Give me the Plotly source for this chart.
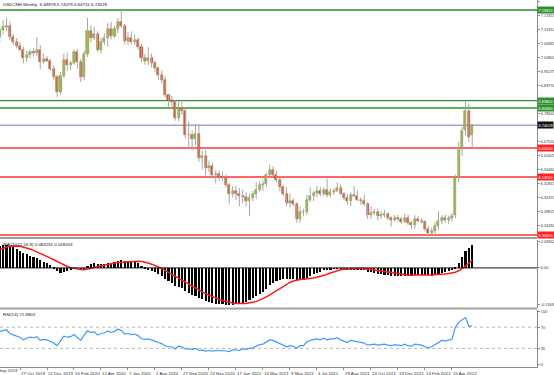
import pandas as pd
import plotly.graph_objects as go

# ---------------- data ----------------
symbol_title = "USDCNH,Weekly  6.69978 6.74079 6.64715 6.74028"
dates = pd.date_range("2019-09-15", periods=141, freq="7D")

opens = [7.090, 7.117, 7.128, 7.135, 7.090, 7.068, 7.055, 7.040, 7.005, 7.020,
         7.030, 7.025, 7.040, 6.990, 7.002, 6.996, 6.962, 6.932, 6.870, 6.935,
         7.000, 6.978, 6.988, 7.030, 6.992, 6.932, 7.022, 7.112, 7.085, 7.102,
         7.040, 7.070, 7.085, 7.122, 7.095, 7.122, 7.148, 7.135, 7.075, 7.085,
         7.070, 7.076, 7.050, 7.005, 6.995, 7.008, 6.985, 6.965, 6.940, 6.920,
         6.860, 6.840, 6.832, 6.770, 6.810, 6.795, 6.700, 6.702, 6.685, 6.705,
         6.612, 6.620, 6.570, 6.578, 6.542, 6.546, 6.535, 6.530, 6.505, 6.470,
         6.480, 6.470, 6.462, 6.455, 6.440, 6.452, 6.468, 6.485, 6.505, 6.508,
         6.545, 6.565, 6.545, 6.525, 6.495, 6.470, 6.432, 6.442, 6.430, 6.370,
         6.395, 6.396, 6.445, 6.460, 6.474, 6.480, 6.470, 6.485, 6.465, 6.476,
         6.480, 6.490, 6.470, 6.452, 6.440, 6.465, 6.460, 6.446, 6.440, 6.430,
         6.385, 6.392, 6.396, 6.380, 6.386, 6.390, 6.375, 6.366, 6.375, 6.370,
         6.356, 6.375, 6.352, 6.345, 6.370, 6.362, 6.358, 6.330, 6.315, 6.320,
         6.342, 6.360, 6.372, 6.365, 6.372, 6.385, 6.530, 6.648, 6.720, 6.795,
         6.69978]
highs = [7.122, 7.157, 7.165, 7.152, 7.102, 7.085, 7.070, 7.052, 7.035, 7.040,
         7.045, 7.090, 7.058, 7.025, 7.015, 7.002, 6.978, 6.938, 6.952, 7.025,
         7.028, 6.995, 7.040, 7.042, 7.002, 7.035, 7.165, 7.135, 7.130, 7.112,
         7.085, 7.105, 7.145, 7.150, 7.135, 7.165, 7.1965, 7.142, 7.110, 7.112,
         7.100, 7.088, 7.062, 7.022, 7.050, 7.025, 6.995, 6.972, 6.958, 6.935,
         6.866, 6.856, 6.840, 6.842, 6.832, 6.810, 6.755, 6.720, 6.745, 6.745,
         6.640, 6.642, 6.600, 6.592, 6.562, 6.560, 6.556, 6.545, 6.512, 6.500,
         6.500, 6.492, 6.485, 6.475, 6.470, 6.480, 6.515, 6.520, 6.522, 6.552,
         6.585, 6.578, 6.560, 6.532, 6.502, 6.495, 6.470, 6.452, 6.436, 6.420,
         6.410, 6.465, 6.495, 6.480, 6.500, 6.495, 6.495, 6.530, 6.490, 6.490,
         6.515, 6.505, 6.476, 6.470, 6.475, 6.500, 6.482, 6.456, 6.466, 6.436,
         6.420, 6.410, 6.410, 6.400, 6.405, 6.396, 6.380, 6.385, 6.386, 6.376,
         6.390, 6.386, 6.362, 6.385, 6.382, 6.372, 6.366, 6.342, 6.335, 6.356,
         6.400, 6.385, 6.386, 6.382, 6.392, 6.545, 6.675, 6.735, 6.838, 6.825,
         6.74079]
lows = [7.068, 7.100, 7.112, 7.078, 7.058, 7.045, 7.035, 6.985, 6.990, 7.005,
        7.012, 7.015, 6.962, 6.985, 6.990, 6.955, 6.920, 6.852, 6.862, 6.928,
        6.955, 6.960, 6.980, 6.965, 6.912, 6.918, 7.010, 7.068, 7.078, 7.030,
        7.025, 7.058, 7.052, 7.080, 7.085, 7.105, 7.125, 7.062, 7.058, 7.060,
        7.058, 7.040, 6.990, 6.980, 6.978, 6.968, 6.952, 6.920, 6.905, 6.850,
        6.810, 6.815, 6.758, 6.755, 6.780, 6.688, 6.655, 6.640, 6.660, 6.595,
        6.565, 6.540, 6.555, 6.530, 6.510, 6.520, 6.520, 6.495, 6.430, 6.455,
        6.445, 6.420, 6.430, 6.420, 6.380, 6.440, 6.450, 6.478, 6.480, 6.495,
        6.540, 6.535, 6.515, 6.480, 6.460, 6.420, 6.415, 6.420, 6.355, 6.355,
        6.380, 6.385, 6.435, 6.440, 6.455, 6.460, 6.460, 6.455, 6.455, 6.465,
        6.475, 6.465, 6.445, 6.425, 6.420, 6.455, 6.440, 6.425, 6.420, 6.370,
        6.370, 6.385, 6.365, 6.370, 6.375, 6.365, 6.340, 6.360, 6.360, 6.350,
        6.355, 6.345, 6.330, 6.330, 6.355, 6.350, 6.320, 6.300, 6.306, 6.305,
        6.325, 6.350, 6.355, 6.350, 6.360, 6.372, 6.515, 6.618, 6.700, 6.675,
        6.64715]
closes = [7.117, 7.128, 7.135, 7.090, 7.068, 7.055, 7.040, 7.005, 7.020, 7.030,
          7.025, 7.040, 6.990, 7.002, 6.996, 6.962, 6.932, 6.870, 6.935, 7.000,
          6.978, 6.988, 7.030, 6.992, 6.932, 7.022, 7.112, 7.085, 7.102, 7.040,
          7.070, 7.085, 7.122, 7.095, 7.122, 7.148, 7.135, 7.075, 7.085, 7.070,
          7.076, 7.050, 7.005, 6.995, 7.008, 6.985, 6.965, 6.940, 6.920, 6.860,
          6.840, 6.832, 6.770, 6.810, 6.795, 6.700, 6.702, 6.685, 6.705, 6.612,
          6.620, 6.570, 6.578, 6.542, 6.546, 6.535, 6.530, 6.505, 6.470, 6.480,
          6.470, 6.462, 6.455, 6.440, 6.452, 6.468, 6.485, 6.505, 6.508, 6.545,
          6.565, 6.545, 6.525, 6.495, 6.470, 6.432, 6.442, 6.430, 6.370, 6.395,
          6.396, 6.445, 6.460, 6.474, 6.480, 6.470, 6.485, 6.465, 6.476, 6.480,
          6.490, 6.470, 6.452, 6.440, 6.465, 6.460, 6.446, 6.440, 6.430, 6.385,
          6.392, 6.396, 6.380, 6.386, 6.390, 6.375, 6.366, 6.375, 6.370, 6.356,
          6.375, 6.352, 6.345, 6.370, 6.362, 6.358, 6.330, 6.315, 6.320, 6.342,
          6.360, 6.372, 6.365, 6.372, 6.382, 6.530, 6.642, 6.718, 6.795, 6.695,
          6.74028]

macd_main = [0.080, 0.081, 0.081, 0.079, 0.075, 0.069, 0.063, 0.056, 0.050, 0.045,
             0.040, 0.036, 0.030, 0.024, 0.018, 0.012, 0.004, -0.008, -0.015, -0.013,
             -0.008, -0.005, -0.001, -0.002, -0.006, -0.002, 0.010, 0.015, 0.018, 0.016,
             0.016, 0.017, 0.020, 0.020, 0.022, 0.026, 0.029, 0.027, 0.026, 0.024,
             0.022, 0.018, 0.010, 0.003, -0.003, -0.008, -0.014, -0.021, -0.027, -0.037,
             -0.046, -0.052, -0.062, -0.065, -0.069, -0.080, -0.087, -0.093, -0.096, -0.103,
             -0.108, -0.114, -0.117, -0.122, -0.124, -0.126, -0.127, -0.128, -0.130, -0.128,
             -0.126, -0.125, -0.121, -0.117, -0.112, -0.106, -0.099, -0.090, -0.082, -0.071,
             -0.060, -0.051, -0.044, -0.040, -0.038, -0.039, -0.038, -0.037, -0.041, -0.041,
             -0.040, -0.034, -0.027, -0.021, -0.015, -0.011, -0.006, -0.005, -0.003, -0.001,
             0.001, 0.001, -0.001, -0.004, -0.003, -0.003, -0.004, -0.005, -0.006, -0.011,
             -0.014, -0.016, -0.019, -0.021, -0.022, -0.024, -0.026, -0.026, -0.026, -0.027,
             -0.026, -0.026, -0.026, -0.024, -0.023, -0.022, -0.023, -0.025, -0.026, -0.024,
             -0.020, -0.016, -0.013, -0.010, -0.006, 0.004, 0.018, 0.040, 0.060, 0.072,
             0.083251]
macd_signal = [0.0646, 0.0697, 0.0737, 0.0763, 0.0777, 0.0776, 0.0762, 0.0738, 0.0704, 0.0666,
               0.0620, 0.0570, 0.0516, 0.0459, 0.0402, 0.0346, 0.0288, 0.0223, 0.0157, 0.0098,
               0.0049, 0.0010, -0.0018, -0.0040, -0.0060, -0.0067, -0.0047, -0.0013, 0.0021, 0.0048,
               0.0071, 0.0091, 0.0116, 0.0144, 0.0171, 0.0189, 0.0204, 0.0214, 0.0226, 0.0234,
               0.0240, 0.0238, 0.0227, 0.0206, 0.0173, 0.0132, 0.0087, 0.0034, -0.0022, -0.0088,
               -0.0159, -0.0228, -0.0300, -0.0369, -0.0437, -0.0510, -0.0583, -0.0657, -0.0722, -0.0786,
               -0.0848, -0.0906, -0.0963, -0.1022, -0.1071, -0.1114, -0.1152, -0.1188, -0.1218, -0.1240,
               -0.1253, -0.1262, -0.1261, -0.1253, -0.1238, -0.1214, -0.1182, -0.1138, -0.1087, -0.1026,
               -0.0953, -0.0876, -0.0794, -0.0714, -0.0639, -0.0572, -0.0514, -0.0464, -0.0431, -0.0410,
               -0.0398, -0.0387, -0.0372, -0.0353, -0.0327, -0.0297, -0.0262, -0.0222, -0.0180, -0.0137,
               -0.0098, -0.0067, -0.0044, -0.0032, -0.0023, -0.0020, -0.0019, -0.0021, -0.0027, -0.0040,
               -0.0057, -0.0073, -0.0090, -0.0110, -0.0131, -0.0153, -0.0177, -0.0199, -0.0216, -0.0230,
               -0.0241, -0.0249, -0.0254, -0.0257, -0.0256, -0.0251, -0.0248, -0.0247, -0.0246, -0.0243,
               -0.0237, -0.0226, -0.0213, -0.0199, -0.0181, -0.0151, -0.0103, -0.0030, 0.0063, 0.0166,
               0.028203]
rsi = [62, 64, 65, 58, 55, 53, 51, 46, 49, 51,
       50, 52, 45, 47, 46, 43, 40, 35, 45, 53,
       51, 52, 56, 51, 45, 55, 63, 60, 61, 55,
       58, 59, 63, 60, 62, 66, 64, 57, 58, 56,
       57, 54, 48, 47, 48, 46, 43, 41, 39, 35,
       33, 33, 29, 34, 33, 29, 29, 28, 30, 26,
       27, 25, 26, 25, 26, 26, 26, 25, 24, 27,
       27, 26, 29, 28, 30, 31, 34, 37, 38, 42,
       46, 45, 42, 39, 36, 33, 35, 34, 30, 35,
       35, 42, 45, 47, 48, 46, 49, 46, 48, 48,
       50, 46, 43, 41, 45, 44, 42, 41, 40, 36,
       37, 38, 36, 37, 38, 36, 35, 37, 36, 35,
       38, 35, 34, 38, 37, 36, 33, 31, 33, 37,
       41, 45, 44, 45, 47, 70, 79, 84, 88, 72,
       71.8803]

x_tick_dates = ["2019-10-27", "2019-12-22", "2020-02-16", "2020-04-12", "2020-06-07",
                "2020-08-02", "2020-09-27", "2020-11-22", "2021-01-17", "2021-03-14",
                "2021-05-09", "2021-07-04", "2021-08-29", "2021-10-24", "2021-12-19",
                "2022-02-13", "2022-04-10"]
x_tick_labels = ["27 Oct 2019", "22 Dec 2019", "16 Feb 2020", "12 Apr 2020", "7 Jun 2020",
                 "2 Aug 2020", "27 Sep 2020", "22 Nov 2020", "17 Jan 2021", "14 Mar 2021",
                 "9 May 2021", "4 Jul 2021", "29 Aug 2021", "24 Oct 2021", "19 Dec 2021",
                 "13 Feb 2022", "10 Apr 2022"]
cut_first_label = "1 Sep 2019"
# ticks hidden behind the level boxes in the reference are left out
price_ticks = [7.23000, 7.17455, 7.11910, 7.06365, 7.00820, 6.95275, 6.89730,
               6.78640, 6.67550, 6.62005, 6.56460, 6.50915, 6.45370, 6.39825,
               6.34280, 6.28735]
green_levels = [7.19650, 6.83800, 6.80860]
red_levels = [6.65030, 6.53550, 6.30600]
bid_level = 6.74028
macd_ticks = [0.093421, 0.0, -0.130331]
macd_tick_labels = ["0.093421", "0.00", "-0.130331"]
rsi_ticks = [100, 70, 30, 0]
rsi_levels = [70, 30]
macd_label = "MACD(12,26,9) 0.083251 0.028203"
rsi_label = "RSI(14) 71.8803"

# ---------------- styling ----------------
W, H = 554, 375
M_L, M_R, M_T, M_B = 0, 17, 0, 8
PH = H - M_T - M_B
FONT = "Liberation Sans"
FS = 4.4
FS_R = 3.9
AX = "#8c8c8c"
TXT = "#333333"
BULL, BULL_EDGE = "#9fc131", "#6f8a1c"
BEAR, BEAR_EDGE = "#e0561f", "#a8380d"
WICK = "#a6a6a6"


def dom(top_px, bot_px):
    return [1 - bot_px / PH, 1 - top_px / PH]


week_ms = 7 * 86400000
x0 = dates[0] + pd.Timedelta(days=7 * 0.074)
x1 = dates[0] + pd.Timedelta(days=7 * 159.2)

fig = go.Figure()

# wicks
wx, wy = [], []
for d, lo, hi in zip(dates, lows, highs):
    wx += [d, d, None]
    wy += [lo, hi, None]
fig.add_trace(go.Scatter(x=wx, y=wy, mode="lines", line=dict(color=WICK, width=1),
                         hoverinfo="skip", showlegend=False, xaxis="x", yaxis="y"))

# bodies
body_h = [c - o for o, c in zip(opens, closes)]
body_c = [BULL if c >= o else BEAR for o, c in zip(opens, closes)]
edge_c = [BULL_EDGE if c >= o else BEAR_EDGE for o, c in zip(opens, closes)]
fig.add_trace(go.Bar(x=dates, y=body_h, base=opens, width=week_ms * 0.6,
                     marker=dict(color=body_c, line=dict(color=edge_c, width=0.5)),
                     showlegend=False, hoverinfo="skip", xaxis="x", yaxis="y"))

# MACD
fig.add_trace(go.Bar(x=dates, y=macd_main, width=week_ms * 0.62,
                     marker=dict(color="#000000", line=dict(width=0)),
                     showlegend=False, hoverinfo="skip", xaxis="x", yaxis="y2"))
fig.add_trace(go.Scatter(x=dates, y=macd_signal, mode="lines",
                         line=dict(color="#ff1a1a", width=1.5),
                         showlegend=False, hoverinfo="skip", xaxis="x", yaxis="y2"))

# RSI
fig.add_trace(go.Scatter(x=dates, y=rsi, mode="lines",
                         line=dict(color="#3d9bff", width=1.2),
                         showlegend=False, hoverinfo="skip", xaxis="x", yaxis="y3"))

shapes = []
ann = []
for lv in green_levels:
    shapes.append(dict(type="line", xref="paper", x0=0, x1=1, yref="y", y0=lv, y1=lv,
                       line=dict(color="#2f8f2f", width=1.3), layer="below"))
    ann.append(dict(xref="paper", x=1, xanchor="left", yref="y", y=lv, yanchor="middle",
                    text=f"{lv:.5f}", showarrow=False, bgcolor="#2f8f2f",
                    font=dict(family=FONT, size=FS_R, color="white"), borderpad=0.5))
for lv in red_levels:
    shapes.append(dict(type="line", xref="paper", x0=0, x1=1, yref="y", y0=lv, y1=lv,
                       line=dict(color="#ff3333", width=1.3), layer="below"))
    ann.append(dict(xref="paper", x=1, xanchor="left", yref="y", y=lv, yanchor="middle",
                    text=f"{lv:.5f}", showarrow=False, bgcolor="#ff2020",
                    font=dict(family=FONT, size=FS_R, color="white"), borderpad=0.5))
shapes.append(dict(type="line", xref="paper", x0=0, x1=1, yref="y", y0=bid_level, y1=bid_level,
                   line=dict(color="#a3a3d6", width=1.3), layer="below"))
ann.append(dict(xref="paper", x=1, xanchor="left", yref="y", y=bid_level, yanchor="middle",
                text=f"{bid_level:.5f}", showarrow=False, bgcolor="#111111",
                font=dict(family=FONT, size=FS_R, color="white"), borderpad=0.5))

# MACD zero line, RSI levels
shapes.append(dict(type="line", xref="paper", x0=0, x1=1, yref="y2", y0=0, y1=0,
                   line=dict(color="#111111", width=1)))
for lv in rsi_levels:
    shapes.append(dict(type="line", xref="paper", x0=0, x1=1, yref="y3", y0=lv, y1=lv,
                       line=dict(color="#b5b5b5", width=1, dash="dot"), layer="below"))

# panel separators
for ypx in (238, 308.5):
    yp = 1 - ypx / PH
    shapes.append(dict(type="line", xref="paper", x0=0, x1=1, yref="paper", y0=yp, y1=yp,
                       line=dict(color="#a0a0a0", width=2)))

ann.append(dict(xref="paper", x=0.002, xanchor="left", yref="paper", y=1, yanchor="top",
                yshift=0, text=symbol_title, showarrow=False,
                font=dict(family=FONT, size=FS, color="#111111")))
ann.append(dict(xref="paper", x=0.002, xanchor="left", yref="y2 domain", y=1, yanchor="top",
                text=macd_label, showarrow=False,
                font=dict(family=FONT, size=FS, color="#111111")))
ann.append(dict(xref="paper", x=0.002, xanchor="left", yref="y3 domain", y=1, yanchor="top",
                text=rsi_label, showarrow=False,
                font=dict(family=FONT, size=FS, color="#111111")))
ann.append(dict(xref="paper", x=-7 / 537, xanchor="left", yref="paper", y=0, yanchor="middle",
                yshift=-3.5, text=cut_first_label, showarrow=False,
                font=dict(family=FONT, size=FS, color=TXT)))

axis_common = dict(showgrid=False, zeroline=False, showline=True, linecolor=AX, linewidth=1,
                   ticks="outside", ticklen=2, tickcolor=AX, side="right", anchor="x",
                   tickfont=dict(family=FONT, size=FS_R, color=TXT), automargin=False,
                   fixedrange=True)

fig.update_layout(
    width=W, height=H,
    margin=dict(l=M_L, r=M_R, t=M_T, b=M_B),
    paper_bgcolor="white", plot_bgcolor="white",
    barmode="overlay", bargap=0,
    showlegend=False,
    shapes=shapes, annotations=ann,
    xaxis=dict(type="date", range=[x0, x1], domain=[0, 1], anchor="y3",
               tickvals=x_tick_dates, ticktext=x_tick_labels, tickangle=0,
               ticks="outside", ticklen=2, tickcolor=AX,
               ticklabelposition="outside right", ticklabelstandoff=2,
               tickfont=dict(family=FONT, size=FS, color=TXT),
               showline=True, linecolor=AX, linewidth=1,
               showgrid=False, zeroline=False, automargin=False, fixedrange=True),
    yaxis=dict(domain=dom(0, 237), range=[6.2980, 7.2361],
               tickvals=price_ticks, ticktext=[f"{v:.5f}" for v in price_ticks],
               **axis_common),
    yaxis2=dict(domain=dom(239.5, 307.5), range=[-0.1398, 0.1003],
                tickvals=macd_ticks, ticktext=macd_tick_labels, **axis_common),
    yaxis3=dict(domain=dom(309.5, 367), range=[-5.1, 103.2],
                tickvals=rsi_ticks, ticktext=[str(v) for v in rsi_ticks], **axis_common),
)

fig.write_html("out.html", config={"displayModeBar": False},
               post_script="document.body.style.margin='0';document.body.style.overflow='hidden';")
